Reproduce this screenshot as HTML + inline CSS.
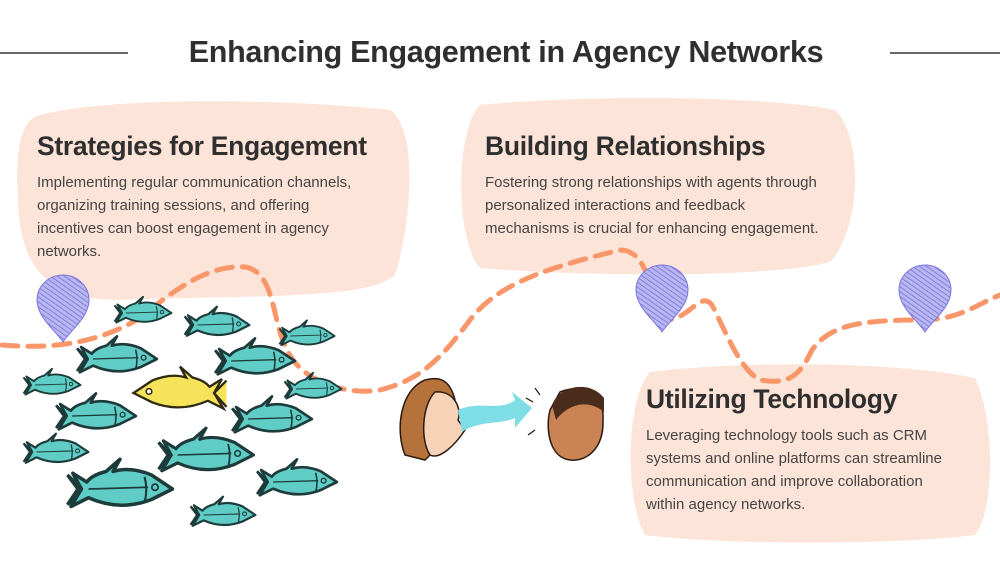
<!DOCTYPE html>
<html><head><meta charset="utf-8"><style>
body{margin:0;width:1000px;height:563px;background:#fff;position:relative;overflow:hidden;font-family:"Liberation Sans",sans-serif;color:#333}
.t{position:absolute;left:6px;width:1000px;top:35px;text-align:center;font-size:30.5px;font-weight:bold;color:#2f2f2f;letter-spacing:-0.3px}
h2{position:absolute;margin:0;font-size:26.5px;font-weight:bold;color:#2f2f2f;letter-spacing:-0.3px;white-space:nowrap}
p{position:absolute;margin:0;font-size:15px;line-height:23px;color:#444;white-space:nowrap}
svg{position:absolute;left:0;top:0}
</style></head><body>
<svg width="1000" height="563" viewBox="0 0 1000 563">
<defs>
<pattern id="h" width="4" height="4" patternUnits="userSpaceOnUse" patternTransform="rotate(-55)"><rect width="4" height="4" fill="#b9b6f0"/><line x1="0" y1="0" x2="0" y2="4" stroke="#6f68dc" stroke-width="1.4"/></pattern>
<g id="f"><path d="M-30,-8 L-22,0 L-30,9 L-24,0Z" fill="#5fcdc6" stroke="#1d3b3b" stroke-width="2"/><path d="M-27,-9 L-22,0 L-28,10 L-18,5 Q0,13 18,6 L30,0 L18,-8 Q6,-13 -4,-10 L0,-17 L-8,-10 Q-16,-8 -19,-4Z" fill="#5fcdc6" stroke="#1d3b3b" stroke-width="2" stroke-linejoin="round"/><line x1="-18" y1="0" x2="16" y2="-1" stroke="#1d3b3b" stroke-width="1"/><path d="M14,-7 Q16,0 14,8" fill="none" stroke="#1d3b3b" stroke-width="1.2"/><circle cx="20" cy="-1" r="1.8" fill="none" stroke="#1d3b3b"/></g>
<path id="pin" d="M0,37 C-8,25 -26,12 -26,-5 C-26,-20 -13,-30 0,-30 C13,-30 26,-20 26,-5 C26,12 8,25 0,37Z" fill="url(#h)" stroke="#7b75de" stroke-width="1"/>
</defs>
<line x1="0" y1="53" x2="128" y2="53" stroke="#333" stroke-width="1.5"/>
<line x1="890" y1="53" x2="1000" y2="53" stroke="#333" stroke-width="1.5"/>
<path d="M40,115 C120,95 300,100 390,110 C420,130 410,230 395,275 C370,300 250,295 120,300 C40,300 20,260 18,200 C15,150 20,120 40,115Z" fill="#fde4d9"/>
<path d="M480,105 C580,95 760,95 835,110 C865,140 860,230 830,262 C760,280 560,275 480,268 C455,240 455,130 480,105Z" fill="#fde4d9"/>
<path d="M650,372 C750,360 900,362 975,378 C995,420 995,510 975,535 C900,545 720,545 645,535 C625,500 625,400 650,372Z" fill="#fde4d9"/>
<path d="M2,345 C40,348 90,348 140,318 C180,285 210,265 245,267 C275,272 272,320 285,345 C300,385 350,395 380,390 C420,380 440,360 470,320 C500,280 560,265 620,250 C650,250 650,300 665,320 C690,320 700,290 712,305 C725,330 740,370 760,380 C790,385 800,375 812,350 C830,325 860,320 920,320 C960,320 975,305 1000,295" fill="none" stroke="#f9976a" stroke-width="5" stroke-dasharray="16 10" stroke-linecap="round"/>
<use href="#pin" x="63" y="305"/><use href="#pin" x="662" y="295"/><use href="#pin" x="925" y="295"/>
<use href="#f" transform="translate(143,313) scale(0.95)"/>
<use href="#f" transform="translate(217,325) scale(1.08)"/>
<use href="#f" transform="translate(307,336) scale(0.92)"/>
<use href="#f" transform="translate(117,359) scale(1.33)"/>
<use href="#f" transform="translate(255,361) scale(1.33)"/>
<use href="#f" transform="translate(52,385) scale(0.95)"/>
<use href="#f" transform="translate(313,389) scale(0.95)"/>
<use href="#f" transform="translate(96,416) scale(1.33)"/>
<use href="#f" transform="translate(272,419) scale(1.33)"/>
<use href="#f" transform="translate(56,452) scale(1.08)"/>
<use href="#f" transform="translate(206,455) scale(1.58)"/>
<use href="#f" transform="translate(120,489) scale(1.75)"/>
<use href="#f" transform="translate(297,482) scale(1.33)"/>
<use href="#f" transform="translate(223,515) scale(1.08)"/>
<g transform="translate(180,393) scale(-1.55,1.55)"><path d="M-27,-9 L-22,0 L-28,10 L-18,5 Q0,13 18,6 L30,0 L18,-8 Q6,-13 -4,-10 L0,-17 L-8,-10 Q-16,-8 -19,-4Z" fill="#f6e35a" stroke="#2d2a10" stroke-width="1.5"/><path d="M-30,-8 L-22,0 L-30,9" fill="#f6e35a" stroke="#2d2a10" stroke-width="1.5"/><circle cx="20" cy="-1" r="1.8" fill="#fff" stroke="#2d2a10"/></g>
<path d="M425,380 C400,390 395,430 405,455 L425,460 L445,440 L455,400 C450,380 440,376 425,380Z" fill="#b5733b" stroke="#2a1a10" stroke-width="1.5"/>
<path d="M435,392 C455,390 462,410 458,420 L465,430 C455,445 440,460 430,455 C420,440 422,405 435,392Z" fill="#f6d2b6" stroke="#2a1a10" stroke-width="1.5"/>
<path d="M458,410 C480,400 500,412 515,400 L512,392 L532,408 L515,428 L515,418 C500,425 480,420 462,432Z" fill="#7fdde6"/>
<path d="M560,392 C585,382 605,395 603,420 C604,450 585,462 570,460 C550,458 545,430 550,410Z" fill="#c98354" stroke="#2a1a10" stroke-width="1.5"/>
<path d="M552,405 C560,385 590,380 604,398 L604,412 C590,400 570,402 556,420Z" fill="#4a2c1c"/>
<g fill="none" stroke="#2a1a10" stroke-width="1.2"><line x1="540" y1="395" x2="535" y2="388"/><line x1="533" y1="402" x2="526" y2="398"/><line x1="535" y1="430" x2="528" y2="435"/></g>
</svg>
<div class="t">Enhancing Engagement in Agency Networks</div>
<h2 style="left:37px;top:131px">Strategies for Engagement</h2>
<p style="left:37px;top:171px">Implementing regular communication channels,<br>organizing training sessions, and offering<br>incentives can boost engagement in agency<br>networks.</p>
<h2 style="left:485px;top:131px">Building Relationships</h2>
<p style="left:485px;top:171px">Fostering strong relationships with agents through<br>personalized interactions and feedback<br>mechanisms is crucial for enhancing engagement.</p>
<h2 style="left:646px;top:384px">Utilizing Technology</h2>
<p style="left:646px;top:424px">Leveraging technology tools such as CRM<br>systems and online platforms can streamline<br>communication and improve collaboration<br>within agency networks.</p>
</body></html>
